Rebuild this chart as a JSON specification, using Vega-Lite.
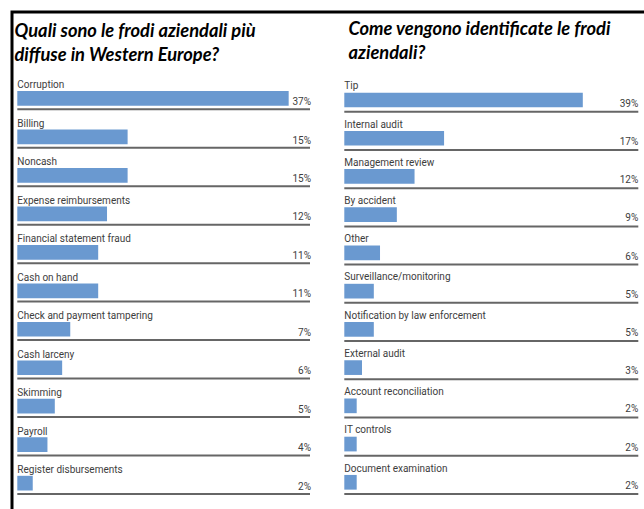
{
  "$schema": "https://vega.github.io/schema/vega-lite/v6.json",
  "autosize": {"type": "none"},
  "padding": {"left": 12, "top": 12, "right": -10, "bottom": -10},
  "width": 642,
  "height": 507,
  "background": "white",
  "config": {
    "view": {"stroke": "black", "strokeWidth": 3},
    "text": {"font": "Roboto", "fontSize": 10, "fill": "#3d3d3d"}
  },
  "datasets": {
    "frodi": [
      {"label": "Corruption", "value": 36.9, "pct": "37%"},
      {"label": "Billing", "value": 15.0, "pct": "15%"},
      {"label": "Noncash", "value": 15.0, "pct": "15%"},
      {"label": "Expense reimbursements", "value": 12.2, "pct": "12%"},
      {"label": "Financial statement fraud", "value": 11.0, "pct": "11%"},
      {"label": "Cash on hand", "value": 11.0, "pct": "11%"},
      {"label": "Check and payment tampering", "value": 7.2, "pct": "7%"},
      {"label": "Cash larceny", "value": 6.1, "pct": "6%"},
      {"label": "Skimming", "value": 5.1, "pct": "5%"},
      {"label": "Payroll", "value": 4.1, "pct": "4%"},
      {"label": "Register disbursements", "value": 2.1, "pct": "2%"}
    ],
    "identificazione": [
      {"label": "Tip", "value": 40.4, "pct": "39%"},
      {"label": "Internal audit", "value": 16.9, "pct": "17%"},
      {"label": "Management review", "value": 11.9, "pct": "12%"},
      {"label": "By accident", "value": 8.9, "pct": "9%"},
      {"label": "Other", "value": 6.05, "pct": "6%"},
      {"label": "Surveillance/monitoring", "value": 5.0, "pct": "5%"},
      {"label": "Notification by law enforcement", "value": 5.0, "pct": "5%"},
      {"label": "External audit", "value": 3.0, "pct": "3%"},
      {"label": "Account reconciliation", "value": 2.1, "pct": "2%"},
      {"label": "IT controls", "value": 2.1, "pct": "2%"},
      {"label": "Document examination", "value": 2.1, "pct": "2%"}
    ]
  },
  "layer": [
    {
      "data": {"name": "frodi"},
      "encoding": {
        "y": {"field": "label", "type": "nominal", "sort": null, "axis": null,
              "scale": {"range": [58.8, 482], "paddingInner": 0, "paddingOuter": 0}}
      },
      "layer": [
        {
          "mark": {"type": "bar", "color": "#6a99d0", "height": 14.7, "yOffset": 8.4},
          "encoding": {
            "x": {"field": "value", "type": "quantitative",
                  "scale": {"domain": [0, 39.8], "range": [5.3, 298], "nice": false, "zero": true},
                  "axis": {"orient": "top", "title": ["Quali sono le frodi aziendali più", "diffuse in Western Europe?"],
                           "labels": false, "ticks": false, "domain": false, "grid": false,
                           "titleX": 2, "titleY": 24.7, "titleAlign": "left", "titleBaseline": "alphabetic",
                           "titleFont": "Lato", "titleFontSize": 18.3, "titleFontWeight": "bold", "titleFontStyle": "italic",
                           "titleColor": "black", "titleLineHeight": 24}}
          }
        },
        {
          "mark": {"type": "text", "align": "left", "baseline": "alphabetic", "dy": -1.7},
          "encoding": {"x": {"datum": 0, "type": "quantitative"}, "text": {"field": "label"}}
        },
        {
          "mark": {"type": "text", "align": "right", "baseline": "alphabetic", "dy": 15, "dx": 1},
          "encoding": {"x": {"datum": 39.8, "type": "quantitative"}, "text": {"field": "pct"}}
        },
        {
          "mark": {"type": "rule", "color": "#666666", "strokeWidth": 2, "yOffset": 19.2},
          "encoding": {"x": {"datum": 0, "type": "quantitative"}, "x2": {"datum": 39.8}}
        }
      ]
    },
    {
      "data": {"name": "identificazione"},
      "encoding": {
        "y": {"field": "label", "type": "nominal", "sort": null, "axis": null,
              "scale": {"range": [61.5, 482], "paddingInner": 0, "paddingOuter": 0}}
      },
      "layer": [
        {
          "mark": {"type": "bar", "color": "#6a99d0", "height": 14.7, "yOffset": 7.4},
          "encoding": {
            "x": {"field": "value", "type": "quantitative",
                  "scale": {"domain": [0, 49.8], "range": [332.3, 626.3], "nice": false, "zero": true},
                  "axis": {"orient": "top", "title": ["Come vengono identificate le frodi", "aziendali?"],
                           "labels": false, "ticks": false, "domain": false, "grid": false,
                           "titleX": 336, "titleY": 22.5, "titleAlign": "left", "titleBaseline": "alphabetic",
                           "titleFont": "Lato", "titleFontSize": 18.3, "titleFontWeight": "bold", "titleFontStyle": "italic",
                           "titleColor": "black", "titleLineHeight": 24}}
          }
        },
        {
          "mark": {"type": "text", "align": "left", "baseline": "alphabetic", "dy": -3.3},
          "encoding": {"x": {"datum": 0, "type": "quantitative"}, "text": {"field": "label"}}
        },
        {
          "mark": {"type": "text", "align": "right", "baseline": "alphabetic", "dy": 14, "dx": 0},
          "encoding": {"x": {"datum": 49.8, "type": "quantitative"}, "text": {"field": "pct"}}
        },
        {
          "mark": {"type": "rule", "color": "#666666", "strokeWidth": 2, "yOffset": 19.1},
          "encoding": {"x": {"datum": 0, "type": "quantitative"}, "x2": {"datum": 49.8}}
        }
      ]
    }
  ],
  "resolve": {"scale": {"x": "independent", "y": "independent"}, "axis": {"x": "independent", "y": "independent"}}
}
